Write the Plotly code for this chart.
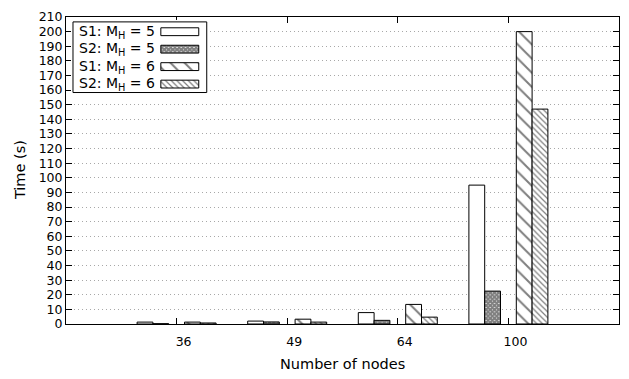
import plotly.graph_objects as go

# ---- data ----
nodes = ["36", "49", "64", "100"]
s1_mh5 = [1.3, 2.0, 7.8, 95]
s2_mh5 = [0.2, 1.4, 2.5, 22.5]
s1_mh6 = [1.3, 3.3, 13.4, 200]
s2_mh6 = [0.7, 1.3, 4.7, 147]
series_names = ["S1: M<sub>H</sub> = 5", "S2: M<sub>H</sub> = 5",
                "S1: M<sub>H</sub> = 6", "S2: M<sub>H</sub> = 6"]
y_ticks = list(range(0, 211, 10))

FONT = "DejaVu Sans"

patterns = [
    dict(shape="", fgcolor="black", bgcolor="white"),
    dict(shape="x", size=3, solidity=0.9, fgcolor="black", bgcolor="white"),
    dict(shape="\\", size=10, solidity=0.2, fgcolor="black", bgcolor="white"),
    dict(shape="\\", size=4, solidity=0.3, fgcolor="black", bgcolor="white"),
]

fig = go.Figure()
series = [s1_mh5, s2_mh5, None, s1_mh6, s2_mh6]
pi = 0
for s in series:
    if s is None:
        fig.add_trace(go.Bar(x=nodes, y=[None] * len(nodes), showlegend=False,
                             hoverinfo="skip"))
        continue
    fig.add_trace(go.Bar(
        x=nodes, y=s, name=series_names[pi], showlegend=False,
        marker=dict(color="white", pattern=patterns[pi],
                    line=dict(color="black", width=1)),
    ))
    pi += 1

# ---- custom legend (gnuplot style: text left, swatch right) ----
row_y = [26 + i * 17.8 for i in range(4)]
for i in range(4):
    fig.add_trace(go.Bar(
        x=[38], y=[row_y[i]], base=[161], orientation="h", width=8, offset=-4,
        xaxis="x2", yaxis="y2", showlegend=False, hoverinfo="skip",
        marker=dict(color="white", pattern=patterns[i],
                    line=dict(color="black", width=1)),
    ))
    fig.add_annotation(x=77, y=row_y[i], xref="x2", yref="y2", text=series_names[i],
                       showarrow=False, xanchor="left", yanchor="middle",
                       font=dict(family=FONT, size=14, color="black"))

fig.add_shape(type="rect", xref="x2", yref="y2", x0=73, x1=207, y0=16, y1=88,
              fillcolor="white", line=dict(color="black", width=1), layer="below")

L, R, T, B = 66, 620, 11, 324
W, H = 629, 379

def px_x(p):
    return (p - L) / (R - L)

def px_y(p):
    return (B - p) / (B - T)

fig.update_layout(
    width=W, height=H,
    margin=dict(l=L, r=W - R, t=T, b=H - B),
    paper_bgcolor="white", plot_bgcolor="white",
    barmode="group", bargap=2 / 7, bargroupgap=0,
    font=dict(family=FONT, size=12, color="black"),
    xaxis=dict(
        type="category", range=[-1, 4],
        showline=True, linecolor="black", linewidth=1, mirror="allticks",
        ticks="inside", ticklen=6, tickcolor="black", tickwidth=1,
        showgrid=False, ticklabelshift=7, ticklabelstandoff=6,
        tickfont=dict(family=FONT, size=12.5, color="black"),
    ),
    yaxis=dict(
        range=[0, 210], tickvals=y_ticks,
        showline=True, linecolor="black", linewidth=1, mirror="allticks",
        ticks="inside", ticklen=6, tickcolor="black", tickwidth=1,
        showgrid=True, gridcolor="#a8a8a8", griddash="1px,3px", gridwidth=1,
        zeroline=False, ticklabeloverflow="allow",
        tickfont=dict(family=FONT, size=12.5, color="black"),
    ),
    xaxis2=dict(domain=[px_x(71), px_x(209)], range=[71, 209], anchor="y2",
                visible=False, fixedrange=True),
    yaxis2=dict(domain=[px_y(90), px_y(14)], range=[90, 14], anchor="x2",
                visible=False, fixedrange=True),
)

fig.add_annotation(text="Number of nodes", xref="paper", yref="paper",
                   x=0.5, y=px_y(365), showarrow=False,
                   xanchor="center", yanchor="middle",
                   font=dict(family=FONT, size=14.5, color="black"))
fig.add_annotation(text="Time (s)", xref="paper", yref="paper",
                   x=px_x(20), y=px_y(167), showarrow=False, textangle=-90,
                   xanchor="center", yanchor="middle",
                   font=dict(family=FONT, size=14.5, color="black"))

fig.write_html("out.html",
               config={"displayModeBar": False},
               post_script="document.body.style.margin='0';"
                           "document.body.style.overflow='hidden';")
